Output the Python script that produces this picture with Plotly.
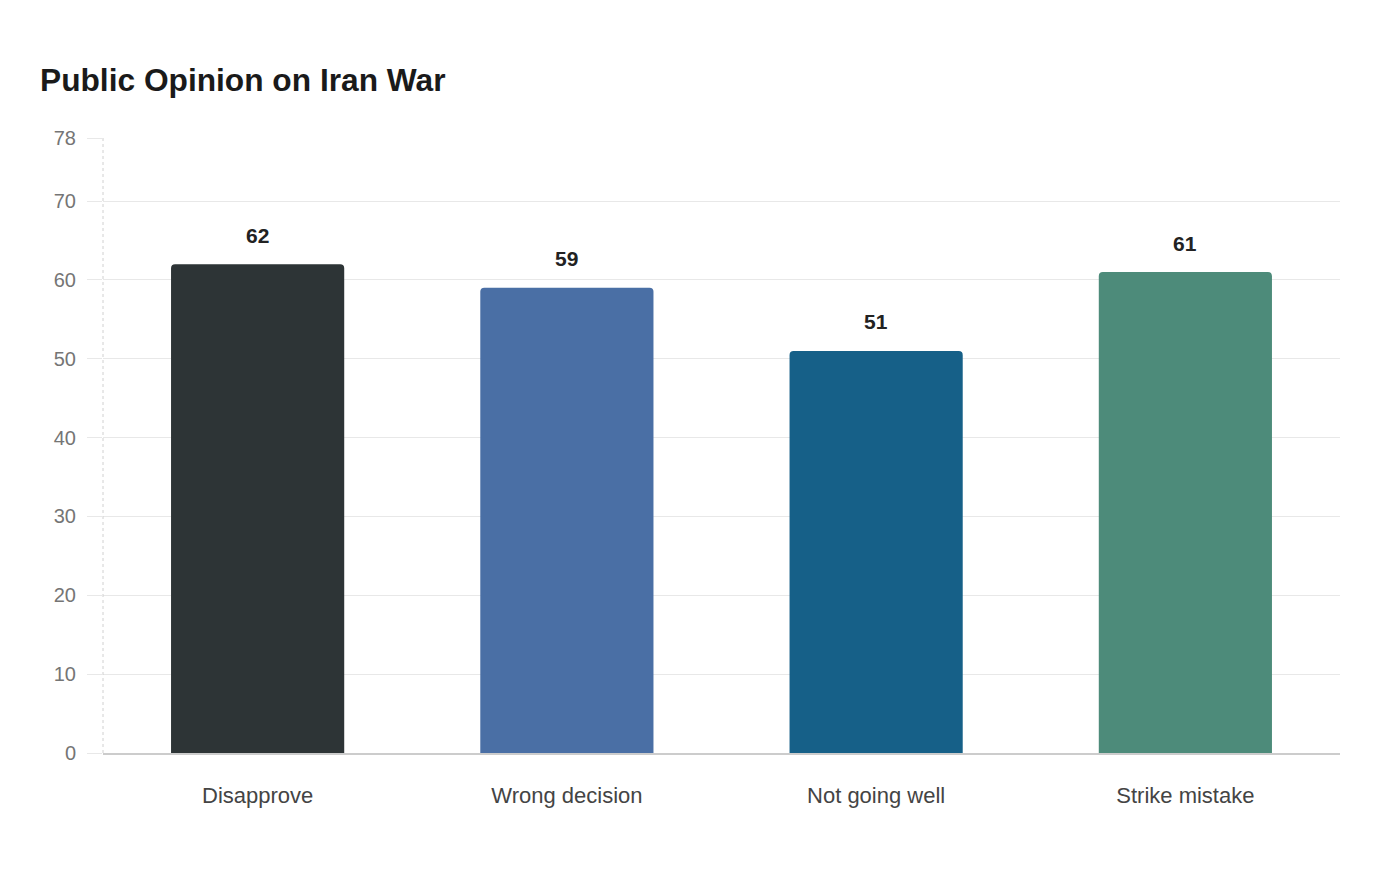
import plotly.graph_objects as go

# Survey results, percent of respondents
categories = ['Disapprove', 'Wrong decision', 'Not going well', 'Strike mistake']
values = [62, 59, 51, 61]
colors = ['#2d3436', '#4a6fa5', '#166088', '#4d8b7a']
y_ticks = [0, 10, 20, 30, 40, 50, 60, 70, 78]

fig = go.Figure(go.Bar(
    x=categories,
    y=values,
    width=0.56,
    marker={'color': colors, 'cornerradius': 4, 'line': {'width': 0}},
    hoverinfo='x+y'))

for cat, val in zip(categories, values):  # value labels above the bars
    fig.add_annotation(x=cat, y=val, text='<b>%d</b>' % val, showarrow=False,
                       yshift=29, font={'size': 21, 'color': '#222222'})

fig.add_shape(type='line', xref='paper', yref='paper', x0=0, x1=0, y0=0, y1=1,
              line={'color': '#d0d0d0', 'width': 1, 'dash': 'dot'})

fig.update_layout(
    width=1400, height=880,
    paper_bgcolor='white', plot_bgcolor='white',
    margin={'l': 95, 'r': 68, 't': 130, 'b': 135},
    font={'family': 'Liberation Sans, Arial, sans-serif'},
    title={'text': '<b>Public Opinion on Iran War</b>', 'x': 32 / 1400, 'xanchor': 'left',
           'y': 1 - 72 / 880, 'yanchor': 'middle',
           'font': {'size': 31.7, 'color': '#1a1a1a'}},
    showlegend=False,
    bargap=0.44)

fig.update_yaxes(range=[0, 78], tickvals=y_ticks, showgrid=True, gridcolor='#e8e8e8',
                 gridwidth=1, zeroline=False, showline=False, ticks='outside', ticklen=15,
                 tickcolor='#e8e8e8', ticklabelstandoff=7,
                 tickfont={'size': 20, 'color': '#757575'})
fig.update_xaxes(showline=True, linecolor='#cccccc', linewidth=2, ticks='',
                 tickfont={'size': 22, 'color': '#444444'}, ticklabelstandoff=22)

fig.write_html("out.html")
